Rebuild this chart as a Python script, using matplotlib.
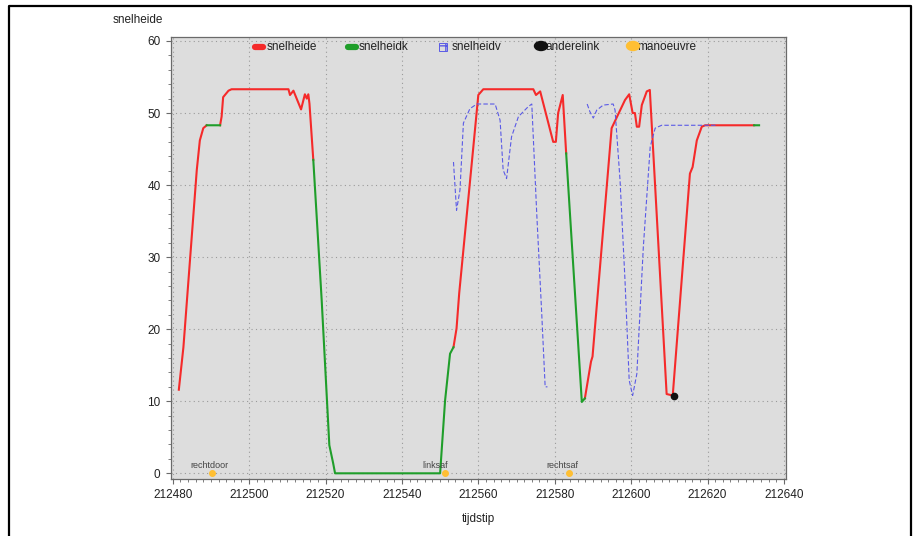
import numpy as np
import matplotlib
matplotlib.use("Agg")
import matplotlib.pyplot as plt
from matplotlib.lines import Line2D
from matplotlib.patches import Rectangle, Ellipse
from matplotlib.ticker import MultipleLocator, FuncFormatter

plt.rcParams['font.family'] = ['Liberation Sans', 'DejaVu Sans']

nan = np.nan

# speed on the current link (red), NaN separates the pieces
snelheide_t = [212481.6, 212482.8, 212486.3, 212487.1, 212488.0, 212488.9, nan,
               212492.4, 212492.8, 212493.2, 212494.6, 212495.4, 212510.3, 212510.7,
               212511.6, 212513.6, 212514.6, 212515.1, 212515.5, 212515.8, 212516.8, nan,
               212553.5, 212554.3, 212555.0, 212558.7, 212560.0, 212561.3, 212574.4,
               212575.1, 212576.2, 212577.9, 212579.6, 212580.3, 212580.9, 212582.1,
               212583.0, nan,
               212587.9, 212589.5, 212589.9, 212594.9, 212598.4, 212599.5, 212600.4,
               212601.0, 212601.5, 212602.1, 212602.8, 212604.1, 212604.9, 212609.3,
               212610.9, 212615.4, 212616.1, 212617.2, 212618.5, 212619.4, 212632.2]
snelheide_v = [11.6, 17.5, 42.1, 46.2, 47.9, 48.3, nan,
               48.3, 49.5, 52.2, 53.1, 53.3, 53.3, 52.5,
               53.1, 50.5, 52.6, 52.0, 52.6, 51.3, 43.5, nan,
               17.5, 20.1, 25.0, 45.3, 52.5, 53.3, 53.3,
               52.5, 53.0, 49.5, 46.0, 46.0, 50.0, 52.5,
               44.4, nan,
               10.4, 15.5, 16.2, 47.9, 51.8, 52.6, 50.0,
               50.0, 48.1, 48.1, 51.1, 53.0, 53.2, 11.0,
               10.8, 41.6, 42.5, 46.2, 48.1, 48.3, 48.3]

# speed while on the connecting link (green)
snelheidk_t = [212488.9, 212492.4, nan,
               212516.8, 212519.0, 212521.0, 212522.0, 212522.5, 212550.0,
               212551.3, 212552.6, 212553.5, nan,
               212583.0, 212587.1, 212587.9, nan,
               212632.2, 212633.5]
snelheidk_v = [48.3, 48.3, nan,
               43.5, 24.0, 3.9, 1.4, 0.0, 0.0,
               10.1, 16.6, 17.5, nan,
               44.4, 9.9, 10.4, nan,
               48.3, 48.3]

# speed of the vehicle ahead (blue dashed)
snelheidv_t = [212553.5, 212554.3, 212555.2, 212556.1, 212557.8, 212559.6, 212564.4,
               212565.7, 212566.5, 212567.4, 212568.7, 212570.5, 212571.8, 212573.1,
               212574.0, 212575.3, 212576.6, 212577.5, 212578.1, nan,
               212588.5, 212589.2, 212590.1, 212591.0, 212592.7, 212595.3, 212595.8,
               212597.1, 212598.4, 212599.5, 212600.4, 212601.5, 212603.2, 212605.0,
               212606.3, 212608.0, 212622.4]
snelheidv_v = [43.2, 36.5, 39.3, 48.6, 50.6, 51.25, 51.25,
               49.0, 42.1, 40.9, 46.7, 49.5, 50.2, 50.9,
               51.25, 36.0, 22.2, 12.0, 12.0, nan,
               51.25, 50.2, 49.3, 50.4, 51.1, 51.25, 50.4,
               40.7, 26.8, 12.9, 10.8, 13.8, 31.4, 45.3,
               47.9, 48.3, 48.3]

anderelink_t = [212611.2]
anderelink_v = [10.7]

manoeuvre_t = [212490.4, 212551.3, 212583.7]
manoeuvre_v = [0.0, 0.0, 0.0]
manoeuvre_label = ['rechtdoor', 'linksaf', 'rechtsaf']

RED = '#f52a2a'
GREEN = '#1f9e2a'
BLUE = '#5a5ae6'
ORANGE = '#ffbf33'
TXT = '#222222'
AXC = '#6a6a6a'

W, H = 913, 536
fig = plt.figure(figsize=(W / 100, H / 100), dpi=100)
fig.patch.set_facecolor('white')

x0, x1, y0, y1 = 171, 786, 37, 479
ax = fig.add_axes([x0 / W, 1 - y1 / H, (x1 - x0) / W, (y1 - y0) / H])
ax.set_facecolor('#dddddd')

ax.set_xlim(212479.55, 212640.55)
ax.set_ylim(-0.79, 60.55)

ax.xaxis.set_major_locator(MultipleLocator(20))
ax.xaxis.set_minor_locator(MultipleLocator(2))
ax.yaxis.set_major_locator(MultipleLocator(10))
ax.yaxis.set_minor_locator(MultipleLocator(2))
ax.xaxis.set_major_formatter(FuncFormatter(lambda v, p: f"{int(round(v))}"))
ax.yaxis.set_major_formatter(FuncFormatter(lambda v, p: f"{int(round(v))}"))

ax.tick_params(axis='both', which='major', length=3.5, width=0.8, color=AXC,
               labelsize=8.5, labelcolor=TXT, pad=4)
ax.tick_params(axis='both', which='minor', length=2, width=0.6, color=AXC)
for s in ax.spines.values():
    s.set_color(AXC)
    s.set_linewidth(0.9)

ax.grid(True, which='major', color='#9a9a9a', linestyle=(0, (1, 3)), linewidth=0.8)
ax.set_axisbelow(True)

# series
ax.plot(snelheide_t, snelheide_v, color=RED, lw=1.5, zorder=3)
ax.plot(snelheidk_t, snelheidk_v, color=GREEN, lw=1.5, zorder=3)
ax.plot(snelheidv_t, snelheidv_v, color=BLUE, lw=0.8, linestyle=(0, (4, 2)), zorder=4)
ax.plot(anderelink_t, anderelink_v, 'o', color='#111111', ms=4.5, zorder=5)
ax.plot(manoeuvre_t, manoeuvre_v, 'o', color=ORANGE, ms=4, zorder=5, clip_on=False)
for t, v, lab in zip(manoeuvre_t, manoeuvre_v, manoeuvre_label):
    ax.annotate(lab, (t, v), xytext=(-16, 2.5), textcoords='offset points',
                ha='left', va='bottom', fontsize=6.5, color='#444444', zorder=6)

# legend row inside the plot
def axfx(px):
    return (px - x0) / (x1 - x0)

def axfy(py):
    return (y1 - py) / (y1 - y0)

ly = axfy(47)
ax.add_line(Line2D([axfx(255), axfx(263)], [ly, ly], transform=ax.transAxes,
                   color=RED, lw=4.5, solid_capstyle='round', zorder=6))
ax.add_line(Line2D([axfx(348), axfx(356)], [ly, ly], transform=ax.transAxes,
                   color=GREEN, lw=4.5, solid_capstyle='round', zorder=6))
ax.add_patch(Rectangle((axfx(439), axfy(51)), 8 / (x1 - x0), 8 / (y1 - y0),
                       transform=ax.transAxes, facecolor='none', edgecolor=BLUE,
                       hatch='++', lw=0.7, zorder=6))
ax.add_patch(Ellipse((axfx(541), axfy(46)), 13 / (x1 - x0), 9 / (y1 - y0),
                     transform=ax.transAxes, color='#111111', zorder=7))
ax.add_patch(Ellipse((axfx(633), axfy(46)), 13 / (x1 - x0), 9 / (y1 - y0),
                     transform=ax.transAxes, color=ORANGE, zorder=7))
for px, lab in [(267, 'snelheide'), (359, 'snelheidk'), (452, 'snelheidv'),
                (545, 'anderelink'), (637, 'manoeuvre')]:
    ax.text(axfx(px), ly, lab, transform=ax.transAxes, ha='left', va='center',
            fontsize=8.5, color=TXT, zorder=6)

# axis titles
fig.text(113 / W, 1 - 20 / H, 'snelheide', ha='left', va='center', fontsize=8.5, color=TXT)
fig.text(478 / W, 1 - 519 / H, 'tijdstip', ha='center', va='center', fontsize=8.5, color=TXT)

# outer frame (open at the bottom)
frame = Line2D([8.5 / W, 8.5 / W, 910.5 / W, 910.5 / W],
               [0, 1 - 5.5 / H, 1 - 5.5 / H, 0],
               transform=fig.transFigure, color='black', lw=1.6)
fig.add_artist(frame)

fig.savefig('out.png', dpi=100)
